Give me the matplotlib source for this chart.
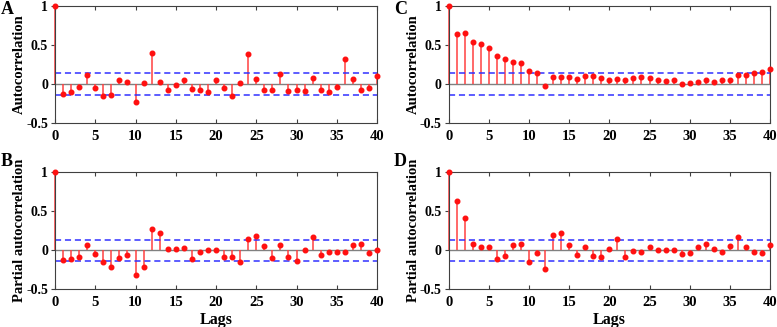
import numpy as np
import matplotlib.pyplot as plt

lags = np.arange(41)

acf_a = [1, -0.13, -0.10, -0.04, 0.115, -0.055, -0.15, -0.14, 0.047, 0.02,
         -0.23, 0.013, 0.40, 0.03, -0.08, -0.017, 0.05, -0.07, -0.077, -0.107,
         0.05, -0.047, -0.158, 0.01, 0.376, 0.064, -0.073, -0.073, 0.128, -0.094,
         -0.081, -0.09, 0.077, -0.077, -0.098, -0.034, 0.32, 0.06, -0.077, -0.047,
         0.107]
pacf_b = [1, -0.124, -0.115, -0.085, 0.073, -0.047, -0.154, -0.218, -0.10, -0.06,
          -0.32, -0.21, 0.278, 0.218, 0.021, 0.013, 0.03, -0.115, -0.021, 0.009,
          0.0, -0.08, -0.09, -0.145, 0.14, 0.188, 0.06, -0.098, 0.068, -0.085,
          -0.132, 0.0, 0.167, -0.06, -0.017, -0.021, -0.021, 0.064, 0.085, -0.038,
          0.0]
acf_c = [1, 0.636, 0.65, 0.54, 0.506, 0.46, 0.355, 0.316, 0.28, 0.264,
         0.16, 0.139, -0.03, 0.087, 0.082, 0.087, 0.06, 0.095, 0.095, 0.074,
         0.048, 0.06, 0.056, 0.074, 0.087, 0.074, 0.048, 0.035, 0.048, 0.0,
         0.013, 0.026, 0.056, 0.026, 0.048, 0.056, 0.12, 0.117, 0.143, 0.156,
         0.195]
pacf_d = [1, 0.632, 0.41, 0.081, 0.038, 0.043, -0.111, -0.077, 0.064, 0.077,
          -0.154, -0.038, -0.235, 0.20, 0.218, 0.073, -0.064, 0.038, -0.068, -0.09,
          0.021, 0.141, -0.09, -0.009, -0.026, 0.047, 0.0, 0.009, 0.009, -0.047,
          -0.03, 0.038, 0.081, 0.013, -0.021, 0.051, 0.17, 0.038, -0.021, -0.03,
          0.068]

bounds = [0.136, 0.136, 0.14, 0.137]
panel_letters = ["A", "B", "C", "D"]
ylabels = ["Autocorrelation", "Partial autocorrelation", "Autocorrelation", "Partial autocorrelation"]
series = [acf_a, pacf_b, acf_c, pacf_d]

plt.rcParams['font.family'] = ['Liberation Serif', 'DejaVu Serif']
plt.rcParams['font.weight'] = 'bold'

W, H = 777, 327
fig = plt.figure(figsize=(W / 100, H / 100), dpi=100)

# axes boxes in pixels: left, top, right, bottom
boxes = [(55, 5.7, 377, 123), (55, 172.3, 377, 289.3),
         (448.7, 5.7, 770, 123), (448.7, 172.3, 770, 289.3)]
letter_pos = [(1, 10), (1, 162), (394, 10), (394, 162)]

for i in range(4):
    l, t, r, b = boxes[i]
    ax = fig.add_axes([l / W, 1 - b / H, (r - l) / W, (b - t) / H])
    vals = series[i]
    ax.axhline(0, color='#808080', lw=1.0, zorder=1)
    ax.vlines(lags, 0, vals, color='#ff4040', lw=1.1, zorder=2, clip_on=False)
    ax.plot(lags, vals, 'o', color='#ff1010', ms=3.3, zorder=3, clip_on=False)
    ax.axhline(bounds[i], color='#3030ff', lw=1.1, ls=(0, (4, 2.5)), zorder=2)
    ax.axhline(-bounds[i], color='#3030ff', lw=1.1, ls=(0, (4, 2.5)), zorder=2)
    ax.set_xlim(0, 40)
    ax.set_ylim(-0.5, 1)
    ax.set_xticks(range(0, 41, 5))
    ax.set_yticks([-0.5, 0, 0.5, 1])
    ax.set_yticklabels(['-0.5', '0', '0.5', '1'])
    for s in ax.spines.values():
        s.set_color('#404040')
        s.set_linewidth(0.8)
    ax.tick_params(axis='x', direction='in', top=True, length=3, color='#404040',
                   labelsize=10.5, pad=5)
    ax.tick_params(axis='y', direction='out', length=3, color='#404040',
                   labelsize=10, pad=2)
    ax.set_ylabel(ylabels[i], fontsize=10.5, fontweight='bold')
    # right edge of the rotated label sits left of the tick labels
    ax.yaxis.set_label_coords(-29 / (r - l), 0.5)
    if i in (1, 3):
        ax.set_xlabel("Lags", fontsize=11.5, fontweight='bold', labelpad=2)
    fig.text(letter_pos[i][0] / W, 1 - letter_pos[i][1] / H, panel_letters[i],
             fontsize=13, fontweight='bold', va='center', ha='left')

fig.savefig("out.png", dpi=100)
